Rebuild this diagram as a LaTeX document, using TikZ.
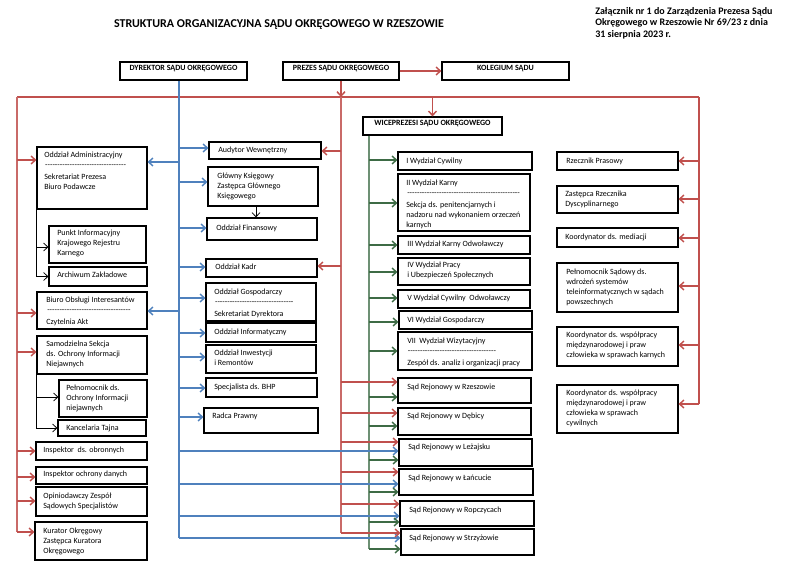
\documentclass[tikz,border=0pt]{standalone}
\usepackage{fontspec}
\setmainfont{Carlito}
\usetikzlibrary{arrows.meta,fit}
\definecolor{cred}{HTML}{C0504D}
\definecolor{cblue}{HTML}{4F81BD}
\definecolor{cgreen}{HTML}{3D6B45}
\newcommand\dline[1]{\hbox to #1{\cleaders\hbox{-}\hfill}}
\newcommand\Bx[8]{%
  \node[box,fit={(#2,#3)(#4,#5)}] (#1) {};
  \node[txt] (#1t) at (#6,#7-4) {#8};%
}
\newcommand\Ar[5]{\draw[#1] (#2 |- 0,#5) -- (#3.#4 |- 0,#5);}
\begin{document}
\begin{tikzpicture}[x=0.75pt,y=-0.75pt,
  box/.style={draw=black,line width=0.9pt,inner sep=0pt},
  txt/.style={anchor=north west,inner sep=0pt,align=left,font=\fontsize{6}{7.5}\selectfont,text=black},
  hd/.style={font=\fontsize{6}{7}\selectfont\bfseries},
  tip/.style={-{Straight Barb[length=3.2pt,width=6pt]}},
  rarr/.style={draw=cred,line width=1.1pt,tip},
  barr/.style={draw=cblue,line width=1.1pt,tip},
  garr/.style={draw=cgreen,line width=1.1pt,tip},
  karr/.style={draw=black,line width=0.6pt,tip},
  rline/.style={draw=cred,line width=1.3pt},
  rthin/.style={draw=cred!85,line width=0.9pt},
  bline/.style={draw=cblue,line width=1.1pt},
  gline/.style={draw=cgreen!75,line width=1.0pt}
]
\useasboundingbox (0,0) rectangle (794,572);

% title and note
\node[font=\fontsize{9}{10}\selectfont\bfseries,inner sep=0pt] (title) at (279,25) {STRUKTURA ORGANIZACYJNA SĄDU OKRĘGOWEGO W RZESZOWIE};
\node[anchor=north west,inner sep=0pt,align=left,font=\fontsize{7.5}{8.7}\selectfont\bfseries] (zal) at (595,7)
  {Załącznik nr 1 do Zarządzenia Prezesa Sądu\\Okręgowego w Rzeszowie Nr 69/23 z dnia\\31 sierpnia 2023 r.};

% header boxes
\node[box,hd,fit={(120,62)(247,80)}] (dyr) {DYREKTOR SĄDU OKRĘGOWEGO};
\node[box,hd,fit={(283,62)(399,80)}] (prez) {PREZES SĄDU OKRĘGOWEGO};
\node[box,hd,fit={(442,62)(569,80)}] (kol) {KOLEGIUM SĄDU};
\node[box,hd,fit={(363,117)(502,135)}] (wice) {WICEPREZESI SĄDU OKRĘGOWEGO};

% line coordinates
\coordinate (rL) at (17,0);
\coordinate (bL) at (179,0);
\coordinate (rM) at (341,0);
\coordinate (gL) at (369,0);
\coordinate (rR) at (699,0);

% left column
\Bx{adm}{37}{147}{147}{209}{44}{156}{Oddział Administracyjny\\\dline{62pt}\\[1.5pt]Sekretariat Prezesa\\Biuro Podawcze}
\Bx{pkt}{49}{226}{146}{263}{57}{234}{Punkt Informacyjny\\Krajowego Rejestru\\Karnego}
\Bx{arch}{49}{267}{147}{286}{57}{276}{Archiwum Zakładowe}
\Bx{biuro}{37}{292}{147}{329}{46}{301}{Biuro Obsługi Interesantów\\\dline{64pt}\\[1.5pt]Czytelnia Akt}
\Bx{sam}{37}{336}{147}{374}{46}{345}{Samodzielna Sekcja\\ds. Ochrony Informacji\\Niejawnych}
\Bx{peln}{59}{380}{147}{417}{66}{389}{Pełnomocnik ds.\\Ochrony Informacji\\niejawnych}
\Bx{kanc}{58}{420}{146}{436}{66}{429}{Kancelaria Tajna}
\Bx{ins1}{36}{442}{147}{460}{43}{451}{Inspektor~ ds. obronnych}
\Bx{ins2}{36}{467}{147}{484}{43}{475}{Inspektor ochrony danych}
\Bx{opin}{36}{487}{147}{516}{43}{497}{Opiniodawczy Zespół\\Sądowych Specjalistów}
\Bx{kur}{35}{522}{147}{560}{43}{532}{Kurator Okręgowy\\Zastępca Kuratora\\Okręgowego}

% middle column
\Bx{aud}{209}{142}{321}{159}{218}{151}{Audytor Wewnętrzny}
\Bx{gk}{208}{167}{318}{206}{217}{177}{Główny Księgowy\\Zastępca Głównego\\Księgowego}
\Bx{fin}{207}{218}{317}{240}{216}{229}{Oddział Finansowy}
\Bx{kadr}{206}{259}{317}{277}{215}{268}{Oddział Kadr}
\Bx{gosp}{206}{283}{316}{321}{214}{293}{Oddział Gospodarczy\\\dline{60pt}\\[1.5pt]Sekretariat Dyrektora}
\Bx{inf}{206}{323}{316}{342}{214}{333}{Oddział Informatyczny}
\Bx{inw}{206}{345}{316}{373}{214}{354}{Oddział Inwestycji\\i Remontów}
\Bx{bhp}{206}{378}{317}{397}{214}{388}{Specjalista ds. BHP}
\Bx{radca}{204}{408}{318}{433}{212}{417}{Radca Prawny}

% wydzialy and sady
\Bx{w1}{398}{152}{532}{170}{406}{162}{I Wydział Cywilny}
\Bx{w2}{398}{174}{530}{231}{406}{184}{II Wydział Karny\\\dline{86pt}\\[1.5pt]Sekcja ds. penitencjarnych i\\nadzoru nad wykonaniem orzeczeń\\karnych}
\Bx{w3}{398}{236}{530}{254}{407}{245}{III Wydział Karny Odwoławczy}
\Bx{w4}{398}{258}{530}{285}{407}{266}{IV Wydział Pracy\\i Ubezpieczeń Społecznych}
\Bx{w5}{398}{290}{530}{308}{407}{299}{V Wydział Cywilny~ Odwoławczy}
\Bx{w6}{399}{311}{532}{329}{407}{321}{VI Wydział Gospodarczy}
\Bx{w7}{398}{332}{532}{370}{407}{342}{VII~ Wydział Wizytacyjny\\\dline{67pt}\\[1.5pt]Zespół ds. analiz i organizacji pracy}
\Bx{sr1}{398}{378}{531}{403}{407}{388}{Sąd Rejonowy w Rzeszowie}
\Bx{sr2}{398}{408}{531}{435}{407}{417}{Sąd Rejonowy w Dębicy}
\Bx{sr3}{399}{439}{532}{466}{408}{448}{Sąd Rejonowy w Leżajsku}
\Bx{sr4}{399}{469}{533}{495}{408}{479}{Sąd Rejonowy w Łańcucie}
\Bx{sr5}{400}{501}{534}{526}{409}{511}{Sąd Rejonowy w Ropczycach}
\Bx{sr6}{401}{529}{534}{555}{409}{539}{Sąd Rejonowy w Strzyżowie}

% right column
\Bx{rp}{557}{152}{678}{170}{566}{162}{Rzecznik Prasowy}
\Bx{zrd}{557}{186}{678}{213}{565}{195}{Zastępca Rzecznika\\Dyscyplinarnego}
\Bx{km}{557}{228}{678}{247}{565}{238}{Koordynator ds. mediacji}
\Bx{pel}{557}{263}{678}{312}{566}{273}{Pełnomocnik Sądowy ds.\\wdrożeń systemów\\teleinformatycznych w sądach\\powszechnych}
\Bx{kwk}{557}{327}{678}{366}{566}{336}{Koordynator ds. współpracy\\międzynarodowej i praw\\człowieka w sprawach karnych}
\Bx{kwc}{557}{385}{678}{433}{566}{394}{Koordynator ds. współpracy\\międzynarodowej i praw\\człowieka w sprawach\\cywilnych}

% trunk lines
\draw[rarr] (prez.east) -- (kol.west);
\draw[rline] (rL |- 0,97) -- (rR |- 0,97);
\draw[rthin] (rL |- 0,97) -- (rL |- 0,532);
\draw[rline] (rR |- 0,97) -- (rR |- 0,404);
\draw[rarr] (prez.south) -- (rM |- 0,97);
\draw[rthin] (rM |- 0,97) -- (rM |- 0,533);
\draw[rarr] (wice.north |- 0,97) -- (wice.north);
\draw[bline] (bL |- dyr.south) -- (bL |- 0,538);
\draw[gline] (gL |- wice.south) -- (gL |- 0,549);

% red left
\Ar{rarr}{rL}{adm}{west}{160}
\Ar{rarr}{rL}{biuro}{west}{313}
\Ar{rarr}{rL}{sam}{west}{352}
\Ar{rarr}{rL}{ins1}{west}{451}
\Ar{rarr}{rL}{ins2}{west}{477}
\Ar{rarr}{rL}{opin}{west}{501}
\Ar{rarr}{rL}{kur}{west}{532}
% blue left
\Ar{barr}{bL}{adm}{east}{162}
\Ar{barr}{bL}{biuro}{east}{311}
% blue right
\Ar{barr}{bL}{aud}{west}{148}
\Ar{barr}{bL}{gk}{west}{182}
\Ar{barr}{bL}{fin}{west}{228}
\Ar{barr}{bL}{kadr}{west}{267}
\Ar{barr}{bL}{gosp}{west}{298}
\Ar{barr}{bL}{inf}{west}{333}
\Ar{barr}{bL}{inw}{west}{357}
\Ar{barr}{bL}{bhp}{west}{388}
\Ar{barr}{bL}{radca}{west}{417}
\Ar{barr}{bL}{sr3}{west}{451}
\Ar{barr}{bL}{sr4}{west}{484}
\Ar{barr}{bL}{sr5}{west}{516}
\Ar{barr}{bL}{sr6}{west}{538}
% red middle
\Ar{rarr}{rM}{aud}{east}{151}
\Ar{rarr}{rM}{kadr}{east}{266}
\Ar{rarr}{rM}{sr1}{west}{382}
\Ar{rarr}{rM}{sr2}{west}{413}
\Ar{rarr}{rM}{sr3}{west}{442}
\Ar{rarr}{rM}{sr4}{west}{472}
\Ar{rarr}{rM}{sr5}{west}{504}
\Ar{rarr}{rM}{sr6}{west}{533}
% green
\Ar{garr}{gL}{w1}{west}{160}
\Ar{garr}{gL}{w2}{west}{203}
\Ar{garr}{gL}{w3}{west}{245}
\Ar{garr}{gL}{w4}{west}{272}
\Ar{garr}{gL}{w5}{west}{298}
\Ar{garr}{gL}{w6}{west}{322}
\Ar{garr}{gL}{w7}{west}{351}
\Ar{garr}{gL}{sr1}{west}{397}
\Ar{garr}{gL}{sr2}{west}{426}
\Ar{garr}{gL}{sr3}{west}{460}
\Ar{garr}{gL}{sr4}{west}{492}
\Ar{garr}{gL}{sr5}{west}{522}
\Ar{garr}{gL}{sr6}{west}{549}
% red right
\Ar{rarr}{rR}{rp}{east}{161}
\Ar{rarr}{rR}{zrd}{east}{199}
\Ar{rarr}{rR}{km}{east}{238}
\Ar{rarr}{rR}{pel}{east}{286}
\Ar{rarr}{rR}{kwk}{east}{345}
\Ar{rarr}{rR}{kwc}{east}{404}
% black
\draw[karr] (adm.south west) |- (arch.west);
\draw[karr] (adm.south west |- 0,247) -- (pkt.west |- 0,247);
\draw[karr] (sam.south west) |- (kanc.west);
\draw[karr] (sam.south west |- 0,397) -- (peln.west |- 0,397);
\draw[karr] (gk.south -| 256,0) -- (fin.north -| 256,0);
\end{tikzpicture}
\end{document}
